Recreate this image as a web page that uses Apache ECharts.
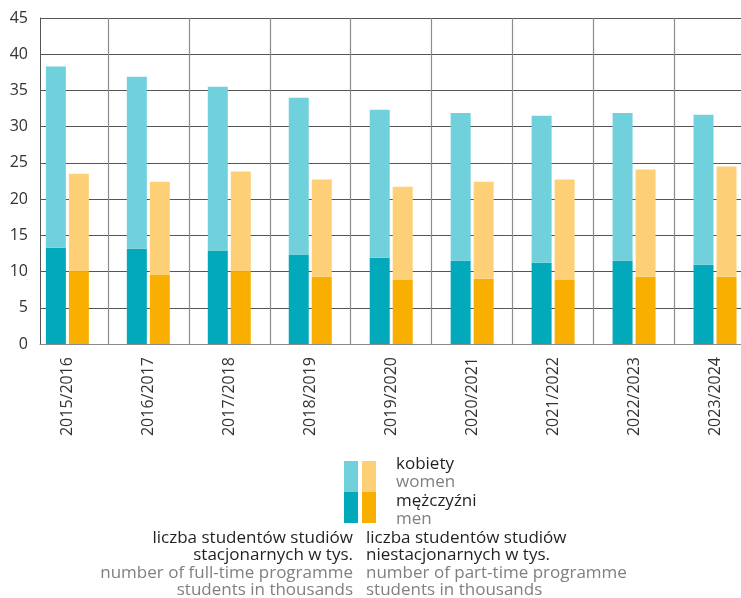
<!DOCTYPE html>
<html><head><meta charset="utf-8">
<script src="https://cdn.jsdelivr.net/npm/echarts@6/dist/echarts.min.js"></script>
<style>html,body{margin:0;padding:0;background:#fff}#c{width:741px;height:598px}</style>
</head><body><div id="c"></div>
<script>
const categories = ['2015/2016','2016/2017','2017/2018','2018/2019','2019/2020','2020/2021','2021/2022','2022/2023','2023/2024'];
const fullTimeMen   = [13.3, 13.15, 12.9, 12.35, 11.9, 11.5, 11.2, 11.5, 10.95];
const fullTimeWomen = [25.0, 23.75, 22.6, 21.65, 20.45, 20.4, 20.3, 20.4, 20.7];
const partTimeMen   = [10.0, 9.6, 10.0, 9.3, 8.9, 9.0, 8.9, 9.3, 9.3];
const partTimeWomen = [13.5, 12.8, 13.8, 13.4, 12.8, 13.4, 13.8, 14.8, 15.2];
const yMin = 0, yMax = 45, yStep = 5;

const FONT = 'Open Sans';
const C_CYAN_DARK = '#02a9ba', C_CYAN_LIGHT = '#70d0dc';
const C_ORANGE_DARK = '#f9af00', C_ORANGE_LIGHT = '#fdd077';
const TXT = '#231f20', GRAY = '#808080';

const chart = echarts.init(document.getElementById('c'), null, {renderer: 'canvas'});
const txt = (x, y, text, color, align) => ({
  type: 'text', x, y, silent: true,
  style: {text, fill: color, font: '17px "' + FONT + '"', textAlign: align, textVerticalAlign: 'middle'}
});
chart.setOption({
  animation: false,
  backgroundColor: '#fff',
  textStyle: {fontFamily: FONT},
  grid: [
    {left: 40, right: 0, top: 18, bottom: 254, outerBoundsMode: 'none', containLabel: false},
    {left: 26.9, width: 728.6, top: 18, bottom: 254, outerBoundsMode: 'none', containLabel: false}
  ],
  xAxis: [{
    gridIndex: 0, type: 'value', min: 0, max: 1,
    axisLine: {show: true, lineStyle: {color: '#8a8a8a', width: 1}},
    axisTick: {show: false}, splitLine: {show: false}, axisLabel: {show: false}
  }, {
    gridIndex: 1, type: 'category', data: categories, boundaryGap: true,
    axisLine: {show: false}, axisTick: {show: false},
    splitLine: {show: true, interval: (i) => i > 0, lineStyle: {color: '#8c8c8c', width: 1.2}},
    axisLabel: {rotate: 90, margin: 13, fontSize: 16, color: '#333', fontFamily: FONT, interval: 0}
  }],
  yAxis: [{
    gridIndex: 0, type: 'value', min: yMin, max: yMax, interval: yStep,
    axisLine: {show: true, lineStyle: {color: '#555', width: 1}},
    axisTick: {show: false},
    axisLabel: {fontSize: 16, color: '#333', margin: 12, fontFamily: FONT},
    splitLine: {show: true, lineStyle: {color: '#555', width: 1.2}}
  }, {
    gridIndex: 1, type: 'value', min: yMin, max: yMax, interval: yStep, show: false,
    splitLine: {show: false}
  }],
  series: [
    {name: 'men full-time', type: 'bar', stack: 'full', xAxisIndex: 1, yAxisIndex: 1, data: fullTimeMen, barWidth: 20, itemStyle: {color: C_CYAN_DARK}},
    {name: 'women full-time', type: 'bar', stack: 'full', xAxisIndex: 1, yAxisIndex: 1, data: fullTimeWomen, barWidth: 20, itemStyle: {color: C_CYAN_LIGHT}},
    {name: 'men part-time', type: 'bar', stack: 'part', xAxisIndex: 1, yAxisIndex: 1, data: partTimeMen, barWidth: 20, itemStyle: {color: C_ORANGE_DARK}},
    {name: 'women part-time', type: 'bar', stack: 'part', xAxisIndex: 1, yAxisIndex: 1, data: partTimeWomen, barWidth: 20, barGap: '15%', itemStyle: {color: C_ORANGE_LIGHT}}
  ],
  graphic: [
    {type: 'rect', shape: {x: 344, y: 461, width: 14, height: 31}, style: {fill: C_CYAN_LIGHT}, silent: true},
    {type: 'rect', shape: {x: 344, y: 492, width: 14, height: 31}, style: {fill: C_CYAN_DARK}, silent: true},
    {type: 'rect', shape: {x: 362, y: 461, width: 14, height: 31}, style: {fill: C_ORANGE_LIGHT}, silent: true},
    {type: 'rect', shape: {x: 362, y: 492, width: 14, height: 31}, style: {fill: C_ORANGE_DARK}, silent: true},
    txt(396, 464, 'kobiety', TXT, 'left'),
    txt(396, 482, 'women', GRAY, 'left'),
    txt(396, 501, 'mężczyźni', TXT, 'left'),
    txt(396, 519, 'men', GRAY, 'left'),
    txt(353, 538, 'liczba studentów studiów', TXT, 'right'),
    txt(353, 555, 'stacjonarnych w tys.', TXT, 'right'),
    txt(353, 573, 'number of full-time programme', GRAY, 'right'),
    txt(353, 590, 'students in thousands', GRAY, 'right'),
    txt(366, 538, 'liczba studentów studiów', TXT, 'left'),
    txt(366, 555, 'niestacjonarnych w tys.', TXT, 'left'),
    txt(366, 573, 'number of part-time programme', GRAY, 'left'),
    txt(366, 590, 'students in thousands', GRAY, 'left')
  ]
});
</script></body></html>
